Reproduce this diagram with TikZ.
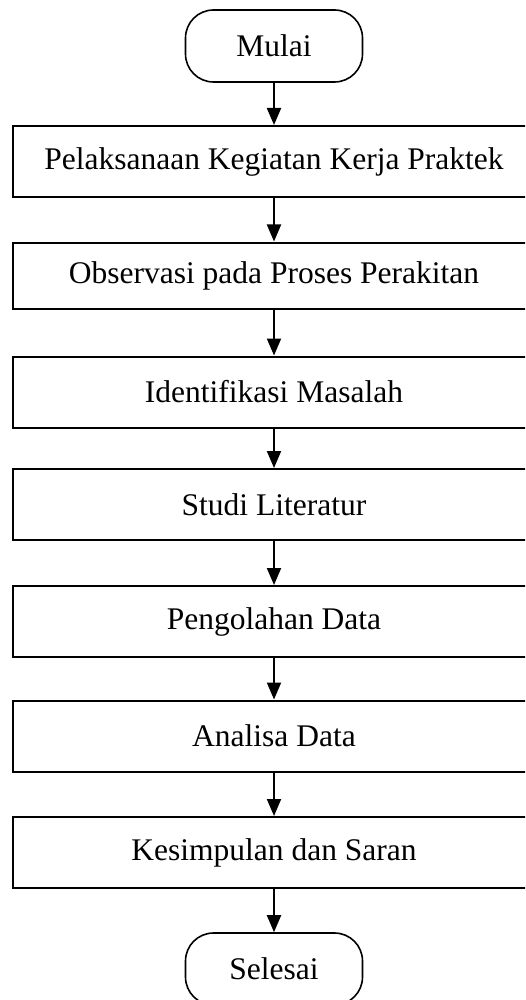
\documentclass[tikz,border=0pt]{standalone}
\usepackage{fontspec}
\setmainfont{Liberation Serif}
\usepackage{tikz}
\usetikzlibrary{arrows.meta,positioning}
\tikzset{
  stepbox/.style={draw,line width=1pt,minimum width=261pt,minimum height=35.5pt,inner sep=0pt},
  termbox/.style={draw,line width=.8pt,rounded corners=14pt,minimum width=88.5pt,minimum height=36pt,inner sep=0pt},
  flowarrow/.style={line width=1pt,-{Triangle[length=8.5pt,width=7pt]}}
}
\begin{document}
\begin{tikzpicture}[x=.5pt,y=-.5pt,font=\fontsize{15.75}{19}\selectfont]
    \useasboundingbox (0,0) rectangle (525,1000);
    \clip (0,0) rectangle (525,1000);
    \node[termbox] (mulai) at (274,46) {Mulai};
    \node[stepbox] (kp) at (274,161.5) {Pelaksanaan Kegiatan Kerja Praktek};
    \node[stepbox,minimum height=33pt] (obs) at (274,275.5) {Observasi pada Proses Perakitan};
    \node[stepbox] (ident) at (274,392) {Identifikasi Masalah};
    \node[stepbox] (studi) at (274,504.5) {Studi Literatur};
    \node[stepbox] (olah) at (274,621.5) {Pengolahan Data};
    \node[stepbox] (analisa) at (274,736) {Analisa Data};
    \node[stepbox] (simpul) at (274,852.5) {Kesimpulan dan Saran};
    \node[termbox] (selesai) at (274,969) {Selesai};
    \foreach \a/\b in {mulai/kp,kp/obs,obs/ident,ident/studi,studi/olah,olah/analisa,analisa/simpul,simpul/selesai}{\draw[flowarrow] (\a.south)--(\b.north);}
  \end{tikzpicture}
\end{document}
